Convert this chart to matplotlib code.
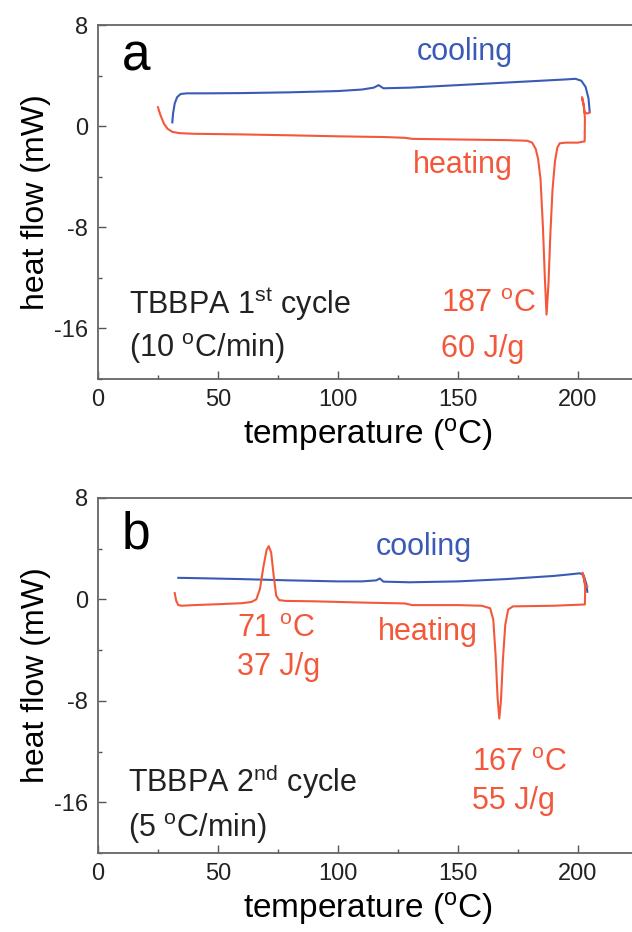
import numpy as np
import matplotlib
matplotlib.use("Agg")
import matplotlib.pyplot as plt
from matplotlib.ticker import MultipleLocator

plt.rcParams["font.family"] = ["Liberation Sans", "DejaVu Sans"]
plt.rcParams["mathtext.fontset"] = "custom"
plt.rcParams["mathtext.rm"] = "Liberation Sans"
plt.rcParams["mathtext.it"] = "Liberation Sans"
plt.rcParams["axes.unicode_minus"] = False

RED = "#F4583B"
BLUE = "#3A5AB6"

# ---- panel a: 1st cycle (10 C/min) ----
a_cool_T = [31, 31.3, 32, 33, 34.5, 37, 45, 60, 80, 100, 110, 115, 117, 117.8, 119,
            130, 150, 170, 185, 195, 199, 201.5, 203.3, 204.5, 205]
a_cool_Y = [0.3, 1.0, 1.8, 2.3, 2.55, 2.6, 2.6, 2.62, 2.68, 2.78, 2.9, 3.05, 3.25, 3.15, 3.0,
            3.05, 3.25, 3.45, 3.6, 3.7, 3.75, 3.6, 3.1, 2.2, 1.1]

a_heat_T = [25, 26, 27.5, 29, 31, 34, 40, 60, 80, 100, 120, 128, 131, 150, 170, 179,
            181, 182.5, 183.5, 184.5, 185.5, 186.3, 187, 187.8, 188.6, 189.5, 190.5, 191.5,
            192.5, 195, 200, 202.9, 203.0, 202.6, 201.9, 201.8, 202.3, 202.8, 204, 205]
a_heat_Y = [1.5, 0.9, 0.2, -0.2, -0.45, -0.55, -0.6, -0.65, -0.72, -0.8, -0.86, -0.92, -1.0,
            -1.05, -1.1, -1.15, -1.3, -1.8, -2.6, -4.2, -8.0, -12.0, -14.9, -12.5, -8.5, -5.0,
            -2.8, -1.7, -1.35, -1.3, -1.3, -1.2, 0.6, 1.6, 2.1, 2.3, 1.9, 1.1, 1.0, 1.1]

# ---- panel b: 2nd cycle (5 C/min) ----
b_cool_T = [33.5, 40, 60, 80, 100, 110, 116, 117.5, 119, 130, 150, 170, 190, 198, 201,
            202.5, 203.6, 204]
b_cool_Y = [1.7, 1.68, 1.6, 1.5, 1.42, 1.42, 1.5, 1.65, 1.4, 1.35, 1.42, 1.6, 1.85, 2.0, 2.06,
            1.9, 1.2, 0.6]

b_heat_T = [32, 32.6, 33.5, 35, 40, 50, 60, 64, 66, 67.5, 69, 70.3, 71.2, 72.2, 73.3, 74.3,
            75.5, 78, 90, 110, 128, 131, 150, 160, 163.5, 164.8, 165.8, 166.6, 167.3, 168.0,
            168.8, 169.8, 171, 173, 190, 203, 203.1, 202.7, 202.1, 202.0, 202.5, 203.2, 204]
b_heat_Y = [0.5, -0.1, -0.45, -0.5, -0.45, -0.38, -0.3, -0.2, 0.0, 0.8, 2.6, 3.9, 4.2, 3.7,
            1.8, 0.3, -0.05, -0.12, -0.15, -0.25, -0.32, -0.45, -0.45, -0.5, -0.7, -1.6, -4.5,
            -7.8, -9.4, -8.0, -4.8, -2.0, -0.8, -0.55, -0.5, -0.4, 1.0, 1.6, 2.0, 2.1, 1.7,
            1.1, 1.0]

fig = plt.figure(figsize=(6.32, 9.32), dpi=100)
ax_a = fig.add_axes([0.155, 0.5933, 0.854, 0.3798])
ax_b = fig.add_axes([0.155, 0.0848, 0.854, 0.3809])

for ax in (ax_a, ax_b):
    ax.set_xlim(0, 225)
    ax.set_ylim(-20, 8)
    ax.xaxis.set_major_locator(MultipleLocator(50))
    ax.xaxis.set_minor_locator(MultipleLocator(25))
    ax.yaxis.set_major_locator(MultipleLocator(8))
    ax.yaxis.set_minor_locator(MultipleLocator(4))
    ax.tick_params(which="both", direction="in", labelsize=17, colors="#555555",
                   labelcolor="#222222", width=1.0, top=False, right=False)
    ax.tick_params(which="major", length=6, pad=7)
    ax.tick_params(which="minor", length=3)
    for s in ("left", "bottom", "top"):
        ax.spines[s].set_color("#666666")
        ax.spines[s].set_linewidth(1.3)
    ax.spines["right"].set_visible(False)
    ax.set_xlabel(r"temperature ($^{\mathrm{o}}$C)", fontsize=24, labelpad=4)
    ax.set_ylabel("heat flow (mW)", fontsize=23, labelpad=2)

# panel a
ax_a.plot(a_cool_T, a_cool_Y, color=BLUE, lw=1.5)
ax_a.plot(a_heat_T, a_heat_Y, color=RED, lw=1.5)
ax_a.text(10, 4.4, "a", fontsize=37, va="baseline")
ax_a.text(153, 5.9, "cooling", color=BLUE, fontsize=22, ha="center", va="center")
ax_a.text(152, -3.1, "heating", color=RED, fontsize=22, ha="center", va="center")
ax_a.text(143, -14.1, r"187 $^{\mathrm{o}}$C", color=RED, fontsize=22, va="center")
ax_a.text(143, -17.6, "60 J/g", color=RED, fontsize=22, va="center")
ax_a.text(13, -14.1, r"TBBPA 1$^{\mathrm{st}}$ cycle", color="#222222", fontsize=22, va="center")
ax_a.text(13, -17.6, r"(10 $^{\mathrm{o}}$C/min)", color="#222222", fontsize=22, va="center")

# panel b
ax_b.plot(b_cool_T, b_cool_Y, color=BLUE, lw=1.5)
ax_b.plot(b_heat_T, b_heat_Y, color=RED, lw=1.5)
ax_b.text(10, 4.0, "b", fontsize=37, va="baseline")
ax_b.text(136, 4.1, "cooling", color=BLUE, fontsize=22, ha="center", va="center")
ax_b.text(137.5, -2.6, "heating", color=RED, fontsize=22, ha="center", va="center")
ax_b.text(58, -2.3, r"71 $^{\mathrm{o}}$C", color=RED, fontsize=22, va="center")
ax_b.text(58, -5.3, "37 J/g", color=RED, fontsize=22, va="center")
ax_b.text(156, -12.9, r"167 $^{\mathrm{o}}$C", color=RED, fontsize=22, va="center")
ax_b.text(156, -15.9, "55 J/g", color=RED, fontsize=22, va="center")
ax_b.text(12.5, -14.4, r"TBBPA 2$^{\mathrm{nd}}$ cycle", color="#222222", fontsize=22, va="center")
ax_b.text(12.5, -18.1, r"(5 $^{\mathrm{o}}$C/min)", color="#222222", fontsize=22, va="center")

fig.savefig("out.png", dpi=100)
